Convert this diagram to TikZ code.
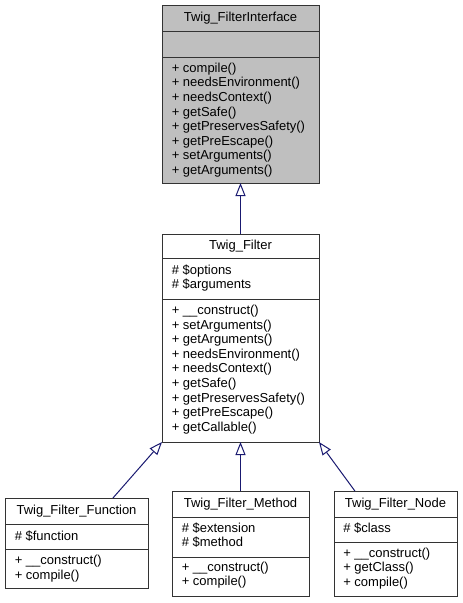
\documentclass[tikz,border=0pt]{standalone}
\usepackage{fontspec}
\setmainfont{Liberation Sans}
\usetikzlibrary{arrows.meta,calc}
\definecolor{edgeblue}{HTML}{191970}
\definecolor{ifacegray}{HTML}{BFBFBF}
\begin{document}
\begin{tikzpicture}[x=0.75pt,y=-0.75pt,
  classbox/.style={draw=black!80, line width=0.75pt, anchor=north west, inner sep=0pt, outer sep=0pt},
  sepline/.style={draw=black!80, line width=0.75pt},
  title/.style={font=\fontsize{9.75}{10.95}\selectfont, inner sep=0pt},
  members/.style={font=\fontsize{9.75}{10.95}\selectfont, align=left, anchor=west, inner sep=0pt},
  inherit/.style={draw=edgeblue, line width=0.75pt, -{Triangle[open, length=9.75pt, width=7.5pt]}},
]
\useasboundingbox (0,0) rectangle (463,603);

% Twig_FilterInterface
\node[classbox, fill=ifacegray, minimum width=157*0.75pt, minimum height=178*0.75pt] (iface) at (162,5) {};
\draw[sepline] (162,31) -- (319,31);
\draw[sepline] (162,57) -- (319,57);
\node[title] (iface-t) at (240.5,18) {Twig\_FilterInterface};
\node[members] (iface-m) at (171.5,120) {+ compile()\\+ needsEnvironment()\\+ needsContext()\\+ getSafe()\\+ getPreservesSafety()\\+ getPreEscape()\\+ setArguments()\\+ getArguments()};

% Twig_Filter
\node[classbox, fill=white, minimum width=157*0.75pt, minimum height=208*0.75pt] (filter) at (162,234) {};
\draw[sepline] (162,258) -- (319,258);
\draw[sepline] (162,299) -- (319,299);
\node[title] (filter-t) at (240.5,246) {Twig\_Filter};
\node[members] (filter-a) at (171.5,278) {\# \$options\\\# \$arguments};
\node[members] (filter-m) at (171.5,369.5) {+ \_\_construct()\\+ setArguments()\\+ getArguments()\\+ needsEnvironment()\\+ needsContext()\\+ getSafe()\\+ getPreservesSafety()\\+ getPreEscape()\\+ getCallable()};

% Twig_Filter_Function
\node[classbox, fill=white, minimum width=143*0.75pt, minimum height=90*0.75pt] (func) at (5,498) {};
\draw[sepline] (5,524) -- (148,524);
\draw[sepline] (5,549) -- (148,549);
\node[title] (func-t) at (76.5,511) {Twig\_Filter\_Function};
\node[members] (func-a) at (14.5,536) {\# \$function};
\node[members] (func-m) at (14.5,568.5) {+ \_\_construct()\\+ compile()};

% Twig_Filter_Method
\node[classbox, fill=white, minimum width=137*0.75pt, minimum height=105*0.75pt] (method) at (172,491) {};
\draw[sepline] (172,517) -- (309,517);
\draw[sepline] (172,557) -- (309,557);
\node[title] (method-t) at (240.5,504) {Twig\_Filter\_Method};
\node[members] (method-a) at (181.5,535) {\# \$extension\\\# \$method};
\node[members] (method-m) at (181.5,575) {+ \_\_construct()\\+ compile()};

% Twig_Filter_Node
\node[classbox, fill=white, minimum width=123*0.75pt, minimum height=105*0.75pt] (nodecls) at (334,491) {};
\draw[sepline] (334,517) -- (457,517);
\draw[sepline] (334,542) -- (457,542);
\node[title] (nodecls-t) at (395.5,504) {Twig\_Filter\_Node};
\node[members] (nodecls-a) at (343,528) {\# \$class};
\node[members] (nodecls-m) at (343,568.5) {+ \_\_construct()\\+ getClass()\\+ compile()};

% inheritance
\draw[inherit] (filter.north) -- (iface.south);
\draw[inherit] ($(func.north west)!0.755!(func.north east)$) -- (filter.south west);
\draw[inherit] (method.north) -- (filter.south);
\draw[inherit] ($(nodecls.north west)!0.17!(nodecls.north east)$) -- (filter.south east);
\end{tikzpicture}
\end{document}
